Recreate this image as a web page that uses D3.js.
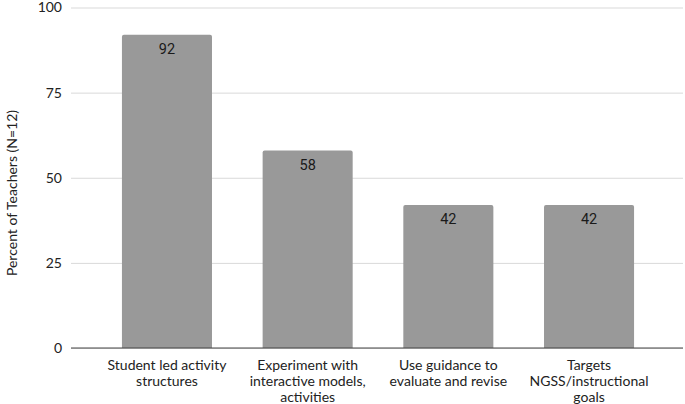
<!DOCTYPE html>
<html lang="en">
<head>
	<meta charset="utf-8">
	<title>Percent of Teachers</title>
	<script src="https://d3js.org/d3.v7.min.js"></script>
	<style type="text/css">
		body { margin: 0; background: #fff; }
	</style>
</head>
<body>
	<script type="text/javascript">

		// data
		let categories = [
			["Student led activity", "structures"],
			["Experiment with", "interactive models,", "activities"],
			["Use guidance to", "evaluate and revise"],
			["Targets", "NGSS/instructional", "goals"]
		];
		let values = [92, 58, 42, 42];
		let yTicks = [0, 25, 50, 75, 100];

		// size
		let w = 685;
		let h = 404;
		let padLeft = 71, padRight = 683, padTop = 7.5, padBottom = 348;

		let svg = d3.select("body")
			.append("svg")
			.attr("width", w)
			.attr("height", h);

		let xScale = d3.scaleBand()
			.domain(d3.range(values.length))
			.range([padLeft + 1, padRight + 1])
			.paddingInner(0.36)
			.paddingOuter(0.355);

		let yScale = d3.scaleLinear()
			.domain([0, 100])
			.range([padBottom, padTop]);

		// gridlines + y labels
		let yAxis = d3.axisLeft(yScale)
			.tickValues(yTicks)
			.tickSize(-(padRight - padLeft))
			.tickPadding(9);

		let gy = svg.append("g")
			.attr("transform", "translate(" + padLeft + ",0)")
			.call(yAxis);
		gy.select(".domain").remove();
		gy.selectAll(".tick line")
			.attr("stroke", "#d9d9d9")
			.attr("stroke-width", 1);
		gy.selectAll(".tick text")
			.attr("font-family", "Lato, 'Open Sans', sans-serif")
			.attr("font-size", "14px")
			.attr("fill", "#222");

		// bars
		svg.selectAll("path.bar")
			.data(values)
			.enter()
			.append("path")
			.attr("class", "bar")
			.attr("fill", "#999999")
			.attr("d", function (d, i) {
				let x0 = xScale(i), x1 = x0 + xScale.bandwidth();
				let y0 = yScale(d), y1 = yScale(0), r = 2;
				return "M" + x0 + "," + y1 + "V" + (y0 + r) +
					"Q" + x0 + "," + y0 + " " + (x0 + r) + "," + y0 +
					"H" + (x1 - r) + "Q" + x1 + "," + y0 + " " + x1 + "," + (y0 + r) +
					"V" + y1 + "Z";
			});

		// value labels
		svg.selectAll("text.val")
			.data(values)
			.enter()
			.append("text")
			.attr("class", "val")
			.attr("text-anchor", "middle")
			.attr("x", function (d, i) { return xScale(i) + xScale.bandwidth() / 2; })
			.attr("y", function (d) { return yScale(d) + 19; })
			.attr("font-family", "Roboto, sans-serif")
			.attr("font-size", "14.5px")
			.attr("fill", "#1a1a1a")
			.text(function (d) { return d; });

		// x axis line
		svg.append("line")
			.attr("x1", padLeft)
			.attr("x2", padRight)
			.attr("y1", yScale(0))
			.attr("y2", yScale(0))
			.attr("stroke", "#444")
			.attr("stroke-width", 1);

		// category labels
		let cat = svg.selectAll("text.cat")
			.data(categories)
			.enter()
			.append("text")
			.attr("class", "cat")
			.attr("text-anchor", "middle")
			.attr("font-family", "Lato, 'Open Sans', sans-serif")
			.attr("font-size", "14px")
			.attr("fill", "#222")
			.attr("transform", function (d, i) {
				return "translate(" + (xScale(i) + xScale.bandwidth() / 2) + ",369.5)";
			});
		cat.selectAll("tspan")
			.data(function (d) { return d; })
			.enter()
			.append("tspan")
			.attr("x", 0)
			.attr("dy", function (d, i) { return i === 0 ? 0 : 16; })
			.text(function (d) { return d; });

		// y axis title
		svg.append("text")
			.attr("transform", "translate(16.5,193) rotate(-90)")
			.attr("text-anchor", "middle")
			.attr("font-family", "Lato, 'Open Sans', sans-serif")
			.attr("font-size", "14px")
			.attr("fill", "#222")
			.text("Percent of Teachers (N=12)");

	</script>
</body>
</html>
